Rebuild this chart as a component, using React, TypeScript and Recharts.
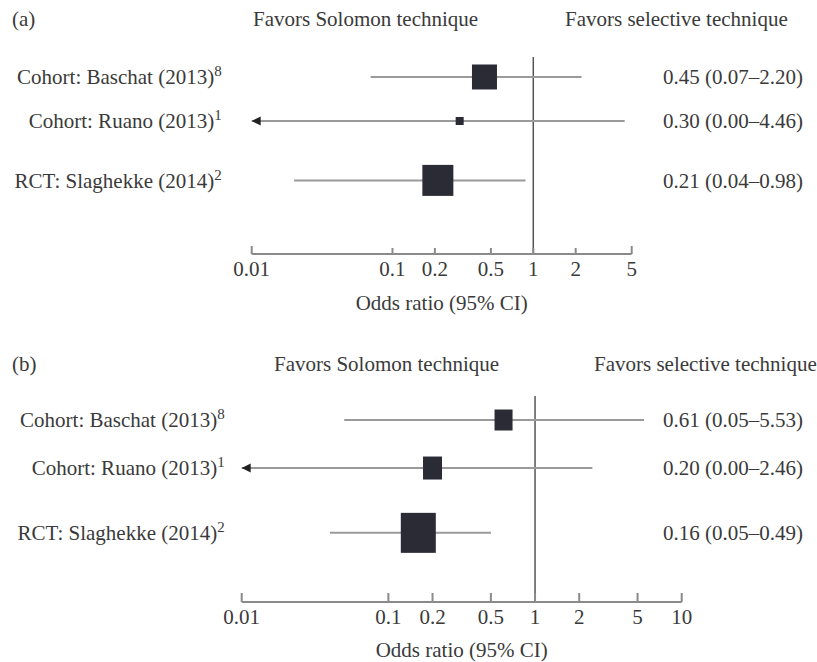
import React from "react";
import { ScatterChart, Scatter, XAxis, YAxis, ReferenceLine, ReferenceDot } from "recharts";

// shared study list
const studies = ["Cohort: Baschat (2013)", "Cohort: Ruano (2013)", "RCT: Slaghekke (2014)"];
const refNums = ["8", "1", "2"];

// panel (a)
const orA = [0.45, 0.3, 0.21];
const loA = [0.07, 0, 0.02];
const hiA = [2.2, 4.46, 0.88];
const textA = ["0.45 (0.07–2.20)", "0.30 (0.00–4.46)", "0.21 (0.04–0.98)"];
const ticksA = [0.01, 0.1, 0.2, 0.5, 1, 2, 5];

// panel (b)
const orB = [0.61, 0.2, 0.16];
const loB = [0.05, 0, 0.04];
const hiB = [5.53, 2.46, 0.5];
const textB = ["0.61 (0.05–5.53)", "0.20 (0.00–2.46)", "0.16 (0.05–0.49)"];
const ticksB = [0.01, 0.1, 0.2, 0.5, 1, 2, 5, 10];

const FONT = "'Liberation Serif', 'DejaVu Serif', serif";
const TEXT = "#3a3a3a";
const AXIS = "#8a8a8a";
const CI = "#9a9a9a";
const BOX = "#2b2b36";
const FS = 21;

// RCT row sits a little apart from the cohort rows
const rows = studies.map((s, i) => i + (s.startsWith("RCT") ? 0.35 : 0));

const cfgA = {
  top: 0,
  height: 330,
  margin: { top: 57, right: 35.3, bottom: 20, left: 171.7 },
  xAxisH: 56,
  rightW: 150,
  yDomain: [-0.4545, 4.023],
  boxes: [[25, 25], [8, 8], [31, 31]],
  leftGap: 30,
  rightDx: 31.3,
  tickLen: [8, 6],
  hdrY: 19,
  solomonX: 253,
  selectiveX: 565,
};

const cfgB = {
  top: 330,
  height: 332,
  margin: { top: 66, right: 15.3, bottom: 5, left: 161.7 },
  xAxisH: 55,
  rightW: 120,
  yDomain: [-0.5, 3.79],
  boxes: [[18, 21], [19, 23], [35, 40]],
  leftGap: 17,
  rightDx: -18.7,
  tickLen: [9, 9],
  hdrY: 34,
  solomonX: 274,
  selectiveX: 594,
};

const hdr: React.CSSProperties = {
  position: "absolute",
  fontFamily: FONT,
  fontSize: FS,
  lineHeight: "24px",
  color: TEXT,
  whiteSpace: "nowrap",
};

function OrTick(props: any) {
  const { x, y, payload, ends, lens } = props;
  const isEnd = ends.includes(payload.value);
  const len = isEnd ? lens[0] : lens[1];
  return (
    <g>
      <line x1={x} x2={x} y1={y} y2={y - len} stroke={AXIS} strokeWidth={2} />
      <text x={x} y={y + 22} textAnchor="middle" fontFamily={FONT} fontSize={FS} fill={TEXT}>
        {String(payload.value)}
      </text>
    </g>
  );
}

function StudyTick(props: any) {
  const { x, y, payload, gap } = props;
  const i = rows.findIndex((r) => Math.abs(r - payload.value) < 1e-6);
  if (i < 0) return null;
  return (
    <text x={x - gap} y={y} dy="0.35em" textAnchor="end" fontFamily={FONT} fontSize={FS} fill={TEXT}>
      {studies[i]}
      <tspan fontSize={15} dy={-8}>{refNums[i]}</tspan>
    </text>
  );
}

function EstTick(props: any) {
  const { x, y, payload, dx, labels } = props;
  const i = rows.findIndex((r) => Math.abs(r - payload.value) < 1e-6);
  if (i < 0) return null;
  return (
    <text x={x + dx} y={y} dy="0.35em" textAnchor="start" fontFamily={FONT} fontSize={FS} fill={TEXT}>
      {labels[i]}
    </text>
  );
}

function ForestPanel({ tag, or, lo, hi, labels, ticks, cfg }: any) {
  const xMin = ticks[0];
  const xMax = ticks[ticks.length - 1];
  const pts = or.map((v: number, i: number) => ({
    or: v,
    row: rows[i],
    w: cfg.boxes[i][0],
    h: cfg.boxes[i][1],
  }));
  const ends = [xMin, xMax];

  return (
    <div style={{ position: "absolute", left: 0, top: cfg.top, width: 817, height: cfg.height }}>
      <div style={{ ...hdr, left: 12, top: cfg.hdrY - 12 }}>{tag}</div>
      <div style={{ ...hdr, left: cfg.solomonX, top: cfg.hdrY - 12 }}>Favors Solomon technique</div>
      <div style={{ ...hdr, left: cfg.selectiveX, top: cfg.hdrY - 12 }}>Favors selective technique</div>
      <ScatterChart width={817} height={cfg.height} margin={cfg.margin}>
        <XAxis
          type="number"
          dataKey="or"
          scale="log"
          domain={[xMin, xMax]}
          ticks={ticks}
          interval={0}
          allowDataOverflow
          height={cfg.xAxisH}
          tickSize={0}
          tickMargin={0}
          tickLine={false}
          axisLine={{ stroke: AXIS, strokeWidth: 2 }}
          tick={(p: any) => <OrTick {...p} ends={ends} lens={cfg.tickLen} />}
          label={{
            value: "Odds ratio (95% CI)",
            position: "insideBottom",
            offset: 0,
            fill: TEXT,
            fontSize: FS,
            fontFamily: FONT,
          }}
        />
        <YAxis
          yAxisId="l"
          type="number"
          dataKey="row"
          domain={cfg.yDomain}
          reversed
          allowDataOverflow
          ticks={rows}
          interval={0}
          width={80}
          axisLine={false}
          tickLine={false}
          tickSize={0}
          tickMargin={0}
          tick={(p: any) => <StudyTick {...p} gap={cfg.leftGap} />}
        />
        <YAxis
          yAxisId="r"
          orientation="right"
          type="number"
          domain={cfg.yDomain}
          reversed
          allowDataOverflow
          ticks={rows}
          interval={0}
          width={cfg.rightW}
          axisLine={false}
          tickLine={false}
          tickSize={0}
          tickMargin={0}
          tick={(p: any) => <EstTick {...p} dx={cfg.rightDx} labels={labels} />}
        />
        <ReferenceLine yAxisId="l" x={1} stroke="#555" strokeWidth={1.5} />
        {rows.map((r, i) => (
          <ReferenceLine
            key={"ci" + i}
            yAxisId="l"
            segment={[
              { x: Math.max(lo[i], xMin), y: r },
              { x: Math.min(hi[i], xMax), y: r },
            ]}
            stroke={CI}
            strokeWidth={2}
          />
        ))}
        {rows.map((r, i) =>
          lo[i] < xMin ? (
            <ReferenceDot
              key={"arr" + i}
              yAxisId="l"
              x={xMin}
              y={r}
              r={5}
              shape={(p: any) => (
                <path
                  d={`M${p.cx},${p.cy} L${p.cx + 9},${p.cy - 4.5} L${p.cx + 9},${p.cy + 4.5} Z`}
                  fill="#222"
                />
              )}
            />
          ) : null
        )}
        <Scatter
          yAxisId="l"
          data={pts}
          isAnimationActive={false}
          shape={(p: any) => (
            <rect
              x={p.cx - p.payload.w / 2}
              y={p.cy - p.payload.h / 2}
              width={p.payload.w}
              height={p.payload.h}
              fill={BOX}
            />
          )}
        />
      </ScatterChart>
    </div>
  );
}

export default function App() {
  return (
    <div style={{ position: "absolute", left: 0, top: 0, width: 817, height: 662, background: "#fff" }}>
      <ForestPanel tag="(a)" or={orA} lo={loA} hi={hiA} labels={textA} ticks={ticksA} cfg={cfgA} />
      <ForestPanel tag="(b)" or={orB} lo={loB} hi={hiB} labels={textB} ticks={ticksB} cfg={cfgB} />
    </div>
  );
}
